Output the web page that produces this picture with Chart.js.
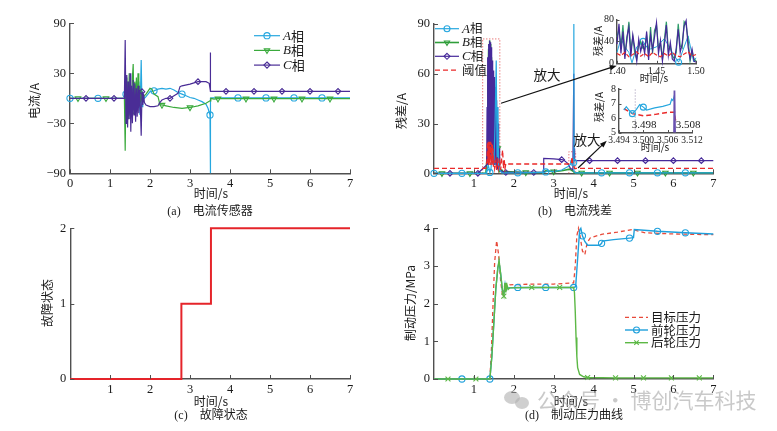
<!DOCTYPE html>
<html><head><meta charset="utf-8">
<script src="https://cdn.jsdelivr.net/npm/chart.js@4.4.0/dist/chart.umd.min.js"></script>
<style>
html,body{margin:0;padding:0;background:#fff;}
body{width:777px;height:431px;overflow:hidden;position:relative;font-family:"Noto Sans CJK SC",sans-serif;}
canvas{position:absolute;left:0;top:0;width:777px;height:431px;}
.t{position:absolute;white-space:nowrap;color:#1a1a1a;line-height:1;transform:translate(-50%,-50%);}
.v{transform:translate(-50%,-50%) rotate(-90deg);}
.s{font-family:"Liberation Serif",serif;}
#wm{position:absolute;left:537px;top:389px;font-size:21px;color:rgba(165,165,165,0.6);white-space:nowrap;line-height:1;z-index:5;}
.bub{position:absolute;border-radius:50%;background:rgba(175,175,175,0.6);z-index:5;}
</style></head><body>
<canvas id="ca" width="777" height="431"></canvas>
<canvas id="cb" width="777" height="431"></canvas>
<canvas id="cc" width="777" height="431"></canvas>
<canvas id="cd" width="777" height="431"></canvas>
<canvas id="ci1" width="777" height="431"></canvas>
<canvas id="ci2" width="777" height="431"></canvas>
<script>
// ---------------- DATA ----------------
// (a) current sensors
const timeA=[0,0.7,1.36,1.4,1.44,1.48,1.52,1.56,1.6,1.64,1.68,1.72,1.75,1.78,1.8,1.82,1.86,1.9,1.95,2.0,2.1,2.2,2.3,2.4,2.5,2.6,2.7,2.8,2.9,3.0,3.1,3.2,3.3,3.4,3.45,3.5,3.505,3.51,3.52,3.55,4.2,4.9,5.6,6.3,7];
const phaseA=[0,0,0,5,-5,8,-10,12,-8,15,-12,20,-20,46,-10,5,0,2,5,8,9,11,12,11,12,10,7,5,3,1,0,-2,-4,-7,-12,-20,-90,-2,0,0.5,0.5,0.5,0.5,0.5,0.5];
const timeB=[0,0.2,0.9,1.36,1.38,1.4,1.42,1.44,1.46,1.48,1.5,1.52,1.54,1.56,1.58,1.6,1.62,1.64,1.66,1.68,1.7,1.72,1.74,1.76,1.78,1.8,1.82,1.84,1.86,1.9,2.0,2.05,2.1,2.2,2.25,2.3,2.4,2.6,2.8,3.0,3.2,3.4,3.5,3.52,3.6,3.7,4.4,5.1,5.8,6.5,7];
const phaseB=[0,0,0,0,-63,25,-15,20,-25,30,-20,15,-15,25,41,-15,20,-10,25,-15,30,-10,15,-5,10,-3,5,2,3,5,12,11,5,2,-8,-8,-9,-11,-12,-11,-9,-6,-3,0,-1,-0.5,-0.5,-0.5,-0.5,-0.5,-0.5];
const timeC=[0,0.4,1.1,1.36,1.38,1.4,1.42,1.44,1.46,1.48,1.5,1.52,1.54,1.56,1.58,1.6,1.62,1.64,1.66,1.68,1.7,1.72,1.74,1.76,1.78,1.8,1.82,1.84,1.86,1.9,2.0,2.1,2.2,2.25,2.3,2.4,2.5,2.6,2.7,2.75,2.8,3.0,3.2,3.4,3.48,3.5,3.503,3.51,3.52,3.9,4.6,5.3,6.0,6.7,7];
const phaseC=[0,0,0,0,70,-30,28,-35,20,-25,30,-40,15,-30,22,-20,18,-28,12,-22,15,-18,10,-12,-45,8,-8,5,-5,-8,-10,-10,-9,-5,-2,0,0,3,6,14,15,17,20,20,18,12,55,8.4,8.4,8.4,8.4,8.4,8.4,8.4,8.4];
const markA=[0,0.7,1.4,2.1,2.8,3.5,4.2,4.9,5.6,6.3];
const markB=[0.2,0.9,1.6,2.3,3.0,3.7,4.4,5.1,5.8,6.5];
const markC=[0.4,1.1,1.8,2.5,3.2,3.9,4.6,5.3,6.0,6.7];
const ticksAY=[-90,-30,30,90];
const ticksAX=[0,1,2,3,4,5,6,7];

// (b) current residuals
const timeAb=[0,0.7,1.3,1.33,1.36,1.4,1.43,1.46,1.5,1.53,1.56,1.58,1.6,1.62,1.65,1.7,2.1,2.75,2.8,2.85,3.0,3.2,3.35,3.45,3.5,3.505,3.51,3.55,4.2,4.9,5.6,6.3,7];
const resA=[0,0,0,2,5,0.5,3,15,5,30,68,10,40,5,2,0.3,0.3,0.5,0.8,1.5,1,2,4,6,6.5,90,1,0.3,0.3,0.3,0.3,0.3,0.3];
const timeBb=[0,0.2,0.9,1.3,1.33,1.35,1.37,1.38,1.39,1.4,1.41,1.42,1.43,1.44,1.46,1.48,1.5,1.52,1.55,1.58,1.6,1.63,1.7,1.75,1.8,2.3,2.75,2.8,3.0,3.2,3.4,3.5,3.52,3.7,4.4,5.1,5.8,6.5,7];
const resB=[0,0,0,0,10,50,75,20,80,30,78,25,70,15,60,10,45,5,30,3,15,1,2,0.5,1,0.5,0.5,1.5,1,1.5,2.5,1,0.3,0.3,0.3,0.3,0.3,0.3,0.3];
const timeCb=[0,0.4,1.1,1.32,1.33,1.34,1.35,1.36,1.37,1.38,1.39,1.4,1.41,1.42,1.43,1.44,1.45,1.46,1.47,1.48,1.49,1.5,1.51,1.52,1.53,1.54,1.55,1.56,1.57,1.58,1.59,1.6,1.61,1.62,1.63,1.64,1.65,1.7,1.8,2.5,2.74,2.75,3.0,3.2,3.25,3.35,3.42,3.48,3.503,3.51,3.52,3.53,3.9,4.6,5.3,6.0,6.7,7];
const resC=[0,0,0,5,40,5,70,8,78,10,80,12,79,10,76,8,72,10,68,6,62,8,58,5,52,6,48,5,44,4,40,3,30,3,15,2,3,1,0.5,0.5,0.5,9,8.7,8.2,8,6,3,2,60,8,15,7.6,7.6,7.6,7.6,7.6,7.6,7.6];
const timeThr=[0,1.3,1.33,1.34,1.35,1.36,1.37,1.38,1.39,1.4,1.41,1.42,1.43,1.44,1.45,1.46,1.47,1.48,1.49,1.5,1.52,1.55,1.57,1.6,1.62,1.65,1.67,1.7,1.72,1.74,1.76,1.78,1.8,1.83,3.44,3.46,3.48,3.5,3.52,7];
const threshold=[3,3,8,19,6,19,5,19,6,19,5,19,6,18,5,18,6,15,4,8,3,8,2,9,3,7,2,10,14,3,8,3,6,5.6,5.6,10,5.6,5,3,3];
const box1T=[1.22,1.22,1.65,1.65], box1V=[0,81,81,0];
const box2T=[3.38,3.38,3.55,3.55], box2V=[0,13,13,0];
const ticksBY=[0,30,60,90];
const ticksBX=[1,2,3,4,5,6,7];

// inset 1 (1.40 - 1.50 s)
const insetT=[1.4,1.4025,1.405,1.4075,1.41,1.4125,1.415,1.4175,1.42,1.4225,1.425,1.4275,1.43,1.4325,1.435,1.4375,1.44,1.4425,1.445,1.4475,1.45,1.4525,1.455,1.4575,1.46,1.4625,1.465,1.4675,1.47,1.4725,1.475,1.4775,1.48,1.4825,1.485,1.4875,1.49,1.4925,1.495,1.4975,1.5];
const insetC=[35,72,18,58,8,48,66,12,52,28,4,44,22,38,18,58,6,52,24,48,74,18,42,4,34,70,14,38,8,4,28,62,20,36,68,78,30,8,26,4,2];
const insetB=[48,62,28,70,18,40,76,24,48,18,8,34,40,28,26,52,18,66,18,60,70,28,36,8,44,76,24,30,14,8,20,72,32,28,76,70,44,4,22,8,4];
const insetAT=[1.4,1.405,1.41,1.415,1.419,1.425,1.43,1.433,1.44,1.45,1.46,1.47,1.478,1.485,1.49,1.497,1.5];
const insetA=[20,45,30,20,1,30,35,40,25,30,45,20,2,30,50,3,10];
const markA1=[1.433,1.478];
const insetRT=[1.4,1.405,1.41,1.415,1.42,1.425,1.43,1.435,1.44,1.445,1.45,1.455,1.46,1.465,1.47,1.475,1.48,1.485,1.49,1.495,1.5];
const insetR=[18,14,20,12,16,21,13,18,12,20,15,12,18,13,20,14,12,17,21,13,16];
const ticksI1X=[1.40,1.45,1.50];
const ticksI1Y=[0,40,80];

// inset 2 (3.494 - 3.512 s)
const inset2AT=[3.4952,3.4958,3.4966,3.4973,3.4983,3.4991,3.5,3.5008,3.5028,3.5048,3.5066,3.507,3.5073,3.5077];
const inset2A=[6.55,6.78,6.5,6.3,6.6,6.93,6.75,6.55,6.7,6.8,6.95,7.3,7.2,7.6];
const markA2=[3.4973,3.5];
const inset2CT=[3.5075,3.5076,3.5077,3.5078,3.5079];
const inset2C=[5,7.9,5,7.8,5];
const inset2RT=[3.4952,3.4973,3.5,3.503,3.5065,3.5077,3.5078,3.508];
const inset2R=[6.65,6.3,6.15,6.25,6.4,6.4,6.0,5.8];
const mark3498T=[3.498,3.498], mark3498V=[5,8];
const ticksI2X=[3.494,3.500,3.506,3.512];
const ticksI2Y=[5,6,7,8];

// (c) fault state
const stateT=[0,2.78,3.52,7];
const stateV=[0,1,2,2];
const ticksCY=[0,1,2];

// (d) brake pressure
const timeTg=[0,1.4,1.44,1.48,1.52,1.57,1.62,1.67,1.72,1.76,1.78,1.82,1.9,2.5,3.0,3.5,3.54,3.58,3.62,3.66,3.72,3.78,3.84,3.92,4.2,4.6,5.0,5.1,5.3,6.0,7];
const targetP=[0,0,0.8,2.0,3.1,3.67,3.3,2.6,2.2,2.4,2.58,2.45,2.5,2.52,2.52,2.55,3.0,3.8,4.0,3.8,3.4,3.3,3.62,3.75,3.84,3.9,3.97,3.93,3.88,3.85,3.83];
const timeFr=[0,0.7,1.4,1.45,1.5,1.55,1.6,1.63,1.67,1.72,1.75,1.78,1.8,1.85,2.1,2.8,3.5,3.55,3.6,3.65,3.68,3.72,3.78,3.85,4.0,4.15,4.2,4.22,4.5,4.9,5.0,5.02,5.6,6.3,7];
const frontP=[0,0,0,0.6,1.5,2.4,2.95,3.1,2.8,2.3,2.25,2.5,2.35,2.42,2.43,2.43,2.43,2.45,3.2,3.95,4.0,3.8,3.65,3.55,3.55,3.55,3.6,3.66,3.7,3.74,3.75,3.97,3.92,3.88,3.85];
const timeRr=[0,0.35,1.05,1.4,1.45,1.5,1.55,1.6,1.63,1.67,1.72,1.75,1.78,1.8,1.83,1.86,1.9,2.45,3.15,3.5,3.52,3.54,3.56,3.58,3.6,3.65,3.75,3.85,4.55,5.25,5.95,6.65,7];
const rearP=[0,0,0,0,0.6,1.5,2.4,2.95,3.15,2.8,2.3,2.2,2.55,2.3,2.5,2.38,2.42,2.43,2.43,2.43,2.3,1.8,1.1,0.6,0.3,0.12,0.06,0.04,0.03,0.03,0.03,0.03,0.03];
const markFr=[0.7,1.4,2.1,2.8,3.5,3.72,4.2,4.9,5.6,6.3];
const markRr=[0.35,1.05,1.75,2.45,3.15,3.85,4.55,5.25,5.95,6.65];
const ticksDY=[0,1,2,3,4];

// ---------------- HELPERS ----------------
const W=777,H=431,YW=40,XH=20;
const SERIF='"Liberation Serif","Times New Roman",serif';
const CJK='"Noto Sans CJK SC",sans-serif';
const CYAN='#26a7df',GREEN='#3aaa3c',PURPLE='#46299a',RED='#ea2a2a';
function pts(xs,ys){return xs.map((x,i)=>({x:x,y:ys[i]}));}
function radii(xs,marks,r){return xs.map(x=>marks.some(m=>Math.abs(m-x)<1e-9)?r:0);}
function series(xs,ys,color,o){
  o=o||{};
  return {data:pts(xs,ys),borderColor:color,backgroundColor:color,borderWidth:o.w||1.2,
    pointRadius:o.marks?radii(xs,o.marks,o.r||3.2):0,pointHoverRadius:0,pointHitRadius:0,
    pointStyle:o.ps||'circle',pointRotation:o.rot||0,pointBorderColor:color,
    pointBackgroundColor:'rgba(0,0,0,0)',pointBorderWidth:1.1,borderDash:o.dash||[],
    tension:0,fill:false,clip:8,stepped:o.stepped||false};
}
function scale(axis,min,max,ticks,fmt,size,pad){
  return {type:'linear',min:min,max:max,
    afterBuildTicks:s=>{s.ticks=ticks.map(v=>({value:v}));},
    afterFit:s=>{if(axis==='x')s.height=XH;else s.width=YW;},
    ticks:{autoSkip:false,maxRotation:0,minRotation:0,padding:pad!==undefined?pad:(axis==='x'?3:4),
      color:'#1a1a1a',font:{family:SERIF,size:size||12.5},callback:v=>fmt(v)},
    grid:{display:false,drawTicks:false,drawOnChartArea:false},
    border:{display:true,color:'#505050',width:1.4}};
}
const fInt=v=>String(v);
const fMinus=v=>v<0?'\u2212'+(-v):String(v);
const f2=v=>v.toFixed(2), f3=v=>v.toFixed(3);

function drawMarker(ctx,ps,x,y,r,color){
  ctx.save();ctx.strokeStyle=color;ctx.lineWidth=1.1;ctx.setLineDash([]);ctx.beginPath();
  if(ps==='circle'){ctx.arc(x,y,r,0,Math.PI*2);}
  else if(ps==='triangle'){ctx.moveTo(x,y+r);ctx.lineTo(x-r*0.866,y-r/2);ctx.lineTo(x+r*0.866,y-r/2);ctx.closePath();}
  else if(ps==='rectRot'){ctx.moveTo(x,y-r);ctx.lineTo(x+r,y);ctx.lineTo(x,y+r);ctx.lineTo(x-r,y);ctx.closePath();}
  else if(ps==='crossRot'){const d=r*0.75;ctx.moveTo(x-d,y-d);ctx.lineTo(x+d,y+d);ctx.moveTo(x+d,y-d);ctx.lineTo(x-d,y+d);}
  ctx.stroke();ctx.restore();
}
function legendPlugin(cfg){
  return {id:'mleg',afterDraw(chart){
    const ctx=chart.ctx;
    cfg.items.forEach((it,i)=>{
      const ds=chart.data.datasets[it.ds];const y=cfg.y+i*cfg.dy;
      ctx.save();ctx.strokeStyle=ds.borderColor;ctx.lineWidth=ds.borderWidth;ctx.setLineDash(ds.borderDash||[]);
      ctx.beginPath();ctx.moveTo(cfg.x,y);ctx.lineTo(cfg.x+cfg.len,y);ctx.stroke();ctx.restore();
      if(it.marker)drawMarker(ctx,ds.pointStyle,cfg.x+cfg.len/2,y,cfg.r||3.2,ds.borderColor);
      let x=cfg.x+cfg.len+3;
      ctx.save();ctx.fillStyle='#1a1a1a';ctx.textBaseline='middle';ctx.textAlign='left';
      if(it.it){ctx.font='italic 13px '+SERIF;ctx.fillText(it.it,x,y+0.5);x+=ctx.measureText(it.it).width;}
      ctx.font=(cfg.size||12)+'px '+CJK;ctx.fillText(it.text,x,y);
      ctx.restore();
    });
  }};
}
function inTicks(L){
  return {id:'inticks',afterDraw(chart){
    const ctx=chart.ctx,a=chart.chartArea,sx=chart.scales.x,sy=chart.scales.y;
    ctx.save();ctx.strokeStyle='#505050';ctx.lineWidth=1;ctx.beginPath();
    sx.ticks.forEach(t=>{const p=Math.round(sx.getPixelForValue(t.value))+0.5;ctx.moveTo(p,a.bottom);ctx.lineTo(p,a.bottom-L);});
    sy.ticks.forEach(t=>{const p=Math.round(sy.getPixelForValue(t.value))+0.5;ctx.moveTo(a.left,p);ctx.lineTo(a.left+L,p);});
    ctx.stroke();ctx.restore();
  }};
}
function arrowPlugin(list){
  return {id:'arrows',afterDraw(chart){
    const ctx=chart.ctx,sx=chart.scales.x,sy=chart.scales.y;
    list.forEach(a=>{
      const x1=sx.getPixelForValue(a[0]),y1=sy.getPixelForValue(a[1]),x2=sx.getPixelForValue(a[2]),y2=sy.getPixelForValue(a[3]);
      const ang=Math.atan2(y2-y1,x2-x1),hl=7,hw=2.6;
      ctx.save();ctx.strokeStyle='#111';ctx.fillStyle='#111';ctx.lineWidth=1.2;
      ctx.beginPath();ctx.moveTo(x1,y1);ctx.lineTo(x2-Math.cos(ang)*hl*0.8,y2-Math.sin(ang)*hl*0.8);ctx.stroke();
      ctx.beginPath();ctx.moveTo(x2,y2);
      ctx.lineTo(x2-Math.cos(ang)*hl+Math.sin(ang)*hw,y2-Math.sin(ang)*hl-Math.cos(ang)*hw);
      ctx.lineTo(x2-Math.cos(ang)*hl-Math.sin(ang)*hw,y2-Math.sin(ang)*hl+Math.cos(ang)*hw);
      ctx.closePath();ctx.fill();ctx.restore();
    });
  }};
}
function make(id,area,datasets,xs,ys,plugins){
  return new Chart(document.getElementById(id),{type:'line',data:{datasets:datasets},
    options:{responsive:false,animation:false,devicePixelRatio:1,events:[],
      layout:{padding:{left:area.l-YW,right:W-area.r,top:area.t,bottom:H-area.b-XH}},
      plugins:{legend:{display:false},tooltip:{enabled:false},title:{display:false}},
      scales:{x:xs,y:ys}},
    plugins:plugins||[]});
}

// ---------------- (a) ----------------
make('ca',{l:70,r:350,t:23.3,b:173.3},[
  series(timeC,phaseC,'#4a2d96',{marks:markC,ps:'rectRot',r:2.8}),
  series(timeB,phaseB,GREEN,{marks:markB,ps:'triangle',rot:180,r:3.2}),
  series(timeA,phaseA,CYAN,{marks:markA,ps:'circle',r:3.1})
],scale('x',0,7,ticksAX,fInt),scale('y',-90,90,ticksAY,fMinus),
[inTicks(4),legendPlugin({x:254,y:35.7,dy:14.7,len:26,r:3.1,size:13,items:[
  {ds:2,it:'A',text:'相',marker:true},{ds:1,it:'B',text:'相',marker:true},{ds:0,it:'C',text:'相',marker:true}]})]);

// ---------------- (b) ----------------
make('cb',{l:434,r:713.3,t:24,b:173.3},[
  series(timeThr,threshold,RED,{dash:[5,3],w:1.3}),
  series(timeAb,resA,CYAN,{marks:markA,ps:'circle',r:3.1}),
  series(timeCb,resC,PURPLE,{marks:markC,ps:'rectRot',r:2.8}),
  series(timeBb,resB,'#2f9e3a',{marks:markB,ps:'triangle',rot:180,r:3.1,w:1.6}),
  series(box1T,box1V,'#e04040',{dash:[1,2],w:1}),
  series(box2T,box2V,'#e04040',{dash:[1,2],w:1})
],scale('x',0,7,ticksBX,fInt),scale('y',0,90,ticksBY,fInt),
[inTicks(4),arrowPlugin([[1.68,42.2,4.58,64.9],[3.61,3.2,4.33,19.6]]),
 legendPlugin({x:435,y:28.7,dy:13.8,len:24,r:3,size:12.5,items:[
  {ds:1,it:'A',text:'相',marker:true},{ds:3,it:'B',text:'相',marker:true},{ds:2,it:'C',text:'相',marker:true},{ds:0,text:'阈值'}]})]);

// ---------------- inset 1 ----------------
make('ci1',{l:617,r:696,t:19.5,b:63.3},[
  series(insetRT,insetR,RED,{dash:[4,2],w:1.2}),
  series(insetT,insetC,PURPLE,{w:1.2}),
  series(insetT,insetB,'#2f9e6a',{w:1.2}),
  series(insetAT,insetA,CYAN,{marks:markA1,ps:'circle',r:3,w:1})
],scale('x',1.4,1.5,ticksI1X,f2,10,2),scale('y',0,80,ticksI1Y,fInt,10,3),[inTicks(2.5)]);

// ---------------- inset 2 ----------------
make('ci2',{l:619,r:692,t:89,b:132.5},[
  series(inset2CT,inset2C,'#6a52b0',{w:1.2}),
  series(inset2AT,inset2A,CYAN,{marks:markA2,ps:'circle',r:3,w:1.2}),
  series(inset2RT,inset2R,RED,{dash:[5,3],w:1.5}),
  series(mark3498T,mark3498V,'#9a8fb0',{dash:[1,2],w:1})
],scale('x',3.494,3.512,ticksI2X,f3,9.5,2),scale('y',5,8,ticksI2Y,fInt,10,3),[inTicks(2.5)]);

// ---------------- (c) ----------------
make('cc',{l:70.3,r:350,t:228.3,b:379},[
  series(stateT,stateV,'#e5242a',{w:2,stepped:true})
],scale('x',0,7,ticksBX,fInt),scale('y',0,2,ticksCY,fInt),[inTicks(4)]);

// ---------------- (d) ----------------
make('cd',{l:434,r:713.3,t:228.3,b:379},[
  series(timeRr,rearP,'#5cb845',{marks:markRr,ps:'crossRot',r:3.5,w:1.4}),
  series(timeFr,frontP,'#1fa0dc',{marks:markFr,ps:'circle',r:3.1,w:1.4}),
  series(timeTg,targetP,'#e84a3a',{dash:[4,3],w:1.3})
],scale('x',0,7,ticksBX,fInt),scale('y',0,4,ticksDY,fInt),
[inTicks(4),legendPlugin({x:625,y:317.3,dy:12.7,len:23,r:3,size:12.5,items:[
  {ds:2,text:'目标压力'},{ds:1,text:'前轮压力',marker:true},{ds:0,text:'后轮压力',marker:true}]})]);

// ---------------- TEXT ----------------
const texts=[
  {h:'电流/A',x:34,y:101,r:1},
  {h:'时间/s',x:211,y:193},
  {h:'<span class="s">(a)</span>&emsp;电流传感器',x:210,y:210},
  {h:'残差/A',x:401,y:111,r:1},
  {h:'时间/s',x:571,y:193},
  {h:'<span class="s">(b)</span>&emsp;电流残差',x:575,y:210},
  {h:'故障状态',x:47,y:303,r:1},
  {h:'时间/s',x:211,y:401},
  {h:'<span class="s">(c)</span>&emsp;故障状态',x:211,y:414},
  {h:'制动压力/MPa',x:410,y:303,r:1},
  {h:'时间/s',x:571,y:401},
  {h:'<span class="s">(d)</span>&emsp;制动压力曲线',x:574,y:414},
  {h:'残差/A',x:598,y:41,r:1,f:10},
  {h:'时间/s',x:654,y:77.5,f:10},
  {h:'残差/A',x:599,y:107,r:1,f:10},
  {h:'时间/s',x:655,y:147,f:10},
  {h:'<span class="s">3.498</span>',x:644,y:124,f:11},
  {h:'<span class="s">3.508</span>',x:688,y:124,f:11},
  {h:'放大',x:547,y:75,f:13.5},
  {h:'放大',x:587,y:140,f:13.5}
];
texts.forEach(o=>{const d=document.createElement('div');d.className='t'+(o.r?' v':'');
  d.style.left=o.x+'px';d.style.top=o.y+'px';d.style.fontSize=(o.f||12)+'px';d.innerHTML=o.h;document.body.appendChild(d);});
const wm=document.createElement('div');wm.id='wm';wm.textContent='公众号 · 博创汽车科技';document.body.appendChild(wm);
[[504,391,16,13],[515,397,14,12]].forEach(b=>{const d=document.createElement('div');d.className='bub';
  d.style.left=b[0]+'px';d.style.top=b[1]+'px';d.style.width=b[2]+'px';d.style.height=b[3]+'px';document.body.appendChild(d);});
</script>
</body></html>
